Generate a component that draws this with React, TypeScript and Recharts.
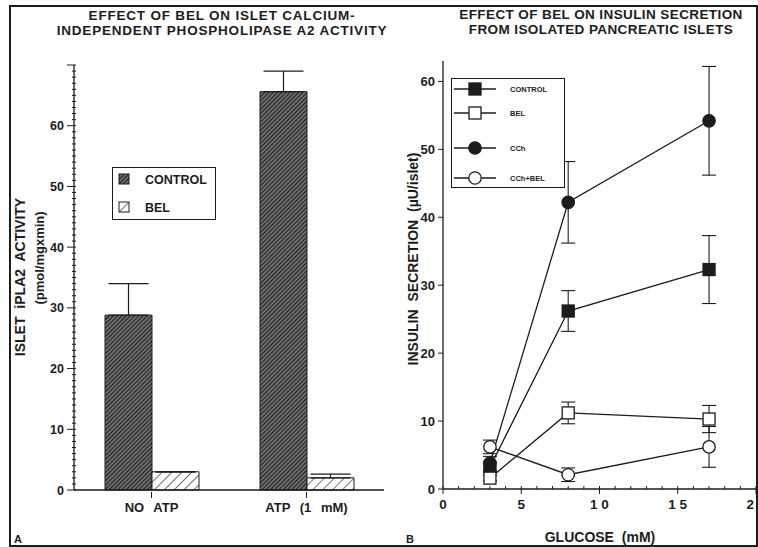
import React from 'react'
import { BarChart, Bar, XAxis, YAxis, ErrorBar, LineChart, Line, Legend } from 'recharts'

const FONT = '"Liberation Sans", Arial, Helvetica, sans-serif'
const INK = '#1c1c1c'

// panel A - iPLA2 activity
const conditions = ['NO ATP', 'ATP (1 mM)']
const controlActivity = [28.8, 65.6]
const controlActivityErr = [5.2, 3.4]
const belActivity = [3.0, 2.0]
const belActivityErr = [0, 0.6]

// panel B - insulin secretion
const glucose = [3, 8, 17]
const controlSecretion = [3.2, 26.2, 32.3]
const controlSecretionErr = [0.6, 3, 5]
const belSecretion = [1.6, 11.2, 10.3]
const belSecretionErr = [0.4, 1.6, 2]
const cchSecretion = [3.8, 42.2, 54.2]
const cchSecretionErr = [1, 6, 8]
const cchBelSecretion = [6.2, 2.1, 6.2]
const cchBelSecretionErr = [1, 1, 3]
const secretionTicks = [0, 10, 20, 30, 40, 50, 60]

// minor tick positions (labels only on every 10th / 5th)
const minorActivity = Array.from({ length: 71 }, (_, i) => i)
const minorGlucose = Array.from({ length: 21 }, (_, i) => i)

const activityData = conditions.map((c, i) => ({
  condition: c,
  control: controlActivity[i],
  controlErr: [0, controlActivityErr[i]],
  bel: belActivity[i],
  belErr: [0, belActivityErr[i]],
}))

const secretionData = glucose.map((g, i) => ({
  glucose: g,
  control: controlSecretion[i],
  controlErr: controlSecretionErr[i],
  bel: belSecretion[i],
  belErr: belSecretionErr[i],
  cch: cchSecretion[i],
  cchErr: cchSecretionErr[i],
  cchBel: cchBelSecretion[i],
  cchBelErr: cchBelSecretionErr[i],
}))

const legendOrder = ['control', 'bel', 'cch', 'cchBel']
const markers: Record<string, string> = {
  control: 'fsquare',
  bel: 'osquare',
  cch: 'fcircle',
  cchBel: 'ocircle',
}

function Marker({ kind, cx, cy }: { kind: string; cx: number; cy: number }) {
  const filled = kind[0] === 'f'
  const fill = filled ? INK : '#fff'
  if (kind.endsWith('square')) {
    return <rect x={cx - 6} y={cy - 6} width={12} height={12} fill={fill} stroke={INK} strokeWidth={1.3} />
  }
  return <circle cx={cx} cy={cy} r={6.2} fill={fill} stroke={INK} strokeWidth={1.3} />
}

const dotFor = (kind: string) => (p: any) => <Marker key={`${kind}-${p.index}`} kind={kind} cx={p.cx} cy={p.cy} />

function ActivityTickLeft({ x, y, payload }: any) {
  const v = payload.value
  const major = v % 10 === 0
  return (
    <g>
      <line x1={major ? x - 7 : x - 2} x2={x + 2} y1={y} y2={y} stroke={INK} strokeWidth={1} />
      {major && v <= 60 && (
        <text x={x - 10} y={y} dy={4.5} textAnchor="end" fontSize={12.5} fontWeight="bold" fontFamily={FONT} fill={INK}>
          {v}
        </text>
      )}
    </g>
  )
}

function ActivityTickRight({ x, y, payload }: any) {
  const major = payload.value % 10 === 0
  return <line x1={x - (major ? 6 : 3)} x2={x} y1={y} y2={y} stroke={INK} strokeWidth={1} />
}

function ConditionTick({ x, y, payload }: any) {
  return (
    <g>
      <line x1={x} x2={x} y1={y} y2={y + 6} stroke={INK} strokeWidth={1} />
      <text x={x} y={y + 20} textAnchor="middle" fontSize={13} fontWeight="bold" fontFamily={FONT} fill={INK} style={{ wordSpacing: 6 }}>
        {payload.value}
      </text>
    </g>
  )
}

function GlucoseTick({ x, y, payload }: any) {
  const v = payload.value
  const major = v % 5 === 0
  return (
    <g>
      {major ? (
        <line x1={x} x2={x} y1={y - 3} y2={y + 5} stroke={INK} strokeWidth={1} />
      ) : (
        <line x1={x} x2={x} y1={y - 3} y2={y} stroke={INK} strokeWidth={1} />
      )}
      {major && (
        <text x={x} y={y + 20} textAnchor="middle" fontSize={13.5} fontWeight="bold" fontFamily={FONT} fill={INK}>
          {String(v).split('').join(' ')}
        </text>
      )}
    </g>
  )
}

function GlucoseTopTick({ x, y }: any) {
  return <line x1={x} x2={x} y1={y} y2={y + 3} stroke={INK} strokeWidth={1} />
}

function SecretionTick({ x, y, payload }: any) {
  return (
    <g>
      <line x1={x - 5} x2={x} y1={y} y2={y} stroke={INK} strokeWidth={1} />
      <text x={x - 8} y={y} dy={4.5} textAnchor="end" fontSize={13} fontWeight="bold" fontFamily={FONT} fill={INK}>
        {payload.value}
      </text>
    </g>
  )
}

function ActivityLegend() {
  const rows = [
    { label: 'CONTROL', fill: 'url(#hatchDark)' },
    { label: 'BEL', fill: 'url(#hatchLight)' },
  ]
  return (
    <div style={{ width: 102, height: 51, border: `1.5px solid ${INK}`, background: '#fff' }}>
      <svg width={102} height={51} style={{ display: 'block' }}>
        {rows.map((r, i) => (
          <g key={r.label}>
            <rect x={6} y={6 + i * 28} width={10} height={10} fill={r.fill} stroke={INK} strokeWidth={1} />
            <text x={32} y={16 + i * 28} fontSize={12.5} fontWeight="bold" fontFamily={FONT} fill={INK}>
              {r.label}
            </text>
          </g>
        ))}
      </svg>
    </div>
  )
}

function SecretionLegend({ payload }: any) {
  const rowY = [10, 34, 69, 99]
  const entries = [...(payload || [])].sort((a: any, b: any) => legendOrder.indexOf(a.dataKey) - legendOrder.indexOf(b.dataKey))
  return (
    <div style={{ width: 112, height: 108, border: `1.5px solid ${INK}`, background: '#fff' }}>
      <svg width={112} height={108} style={{ display: 'block' }}>
        {entries.map((e: any, i: number) => (
          <g key={e.value}>
            <line x1={2} x2={44} y1={rowY[i]} y2={rowY[i]} stroke={INK} strokeWidth={1.3} />
            <Marker kind={markers[e.dataKey]} cx={23} cy={rowY[i]} />
            <text x={58} y={rowY[i] + 3} fontSize={7.5} fontWeight="bold" fontFamily={FONT} fill={INK}>
              {e.value}
            </text>
          </g>
        ))}
      </svg>
    </div>
  )
}

const textStyle = { fontFamily: FONT, fontWeight: 'bold' as const, fill: INK }

export default function App() {
  return (
    <div style={{ position: 'fixed', left: 0, top: 0, width: 758, height: 547, overflow: 'hidden', background: '#fff' }}>
      <div style={{ position: 'absolute', left: 9, top: 5, width: 745, height: 538, border: `2px solid ${INK}` }} />

      <div style={{ position: 'absolute', left: 0, top: 0 }}>
        <BarChart width={390} height={547} data={activityData} margin={{ top: 65, right: 6, left: 0, bottom: 17 }} barGap={0} barSize={47}>
          <defs>
            <pattern id="hatchDark" width={3} height={3} patternUnits="userSpaceOnUse" patternTransform="rotate(45)">
              <rect width={3} height={3} fill="#6e6e6e" />
              <line x1={0} y1={0} x2={0} y2={3} stroke="#151515" strokeWidth={1.8} />
            </pattern>
            <pattern id="hatchLight" width={7} height={7} patternUnits="userSpaceOnUse" patternTransform="rotate(45)">
              <rect width={7} height={7} fill="#fff" />
              <line x1={0} y1={0} x2={0} y2={7} stroke="#333" strokeWidth={1.4} />
            </pattern>
          </defs>
          <XAxis dataKey="condition" height={40} tickSize={0} tick={<ConditionTick />} axisLine={{ stroke: INK, strokeWidth: 1.3 }} tickLine={false} interval={0} />
          <XAxis dataKey="condition" xAxisId="top" orientation="top" height={0} tick={false} tickLine={false} axisLine={{ stroke: INK, strokeWidth: 1.3 }} />
          <YAxis domain={[0, 70]} ticks={minorActivity} interval={0} width={74} tickSize={0} tickMargin={0} tick={<ActivityTickLeft />} tickLine={false} axisLine={{ stroke: INK, strokeWidth: 1.3 }} />
          <YAxis yAxisId="r" orientation="right" domain={[0, 70]} ticks={minorActivity} interval={0} width={0} tickSize={0} tickMargin={0} tick={<ActivityTickRight />} tickLine={false} axisLine={{ stroke: INK, strokeWidth: 1.3 }} />
          <Legend layout="horizontal" verticalAlign="middle" align="center" content={<ActivityLegend />} wrapperStyle={{ position: 'absolute', left: 112, top: 167, width: 'auto' }} />
          <Bar dataKey="control" name="CONTROL" fill="url(#hatchDark)" stroke={INK} strokeWidth={1} isAnimationActive={false}>
            <ErrorBar dataKey="controlErr" width={20} stroke={INK} strokeWidth={1.2} />
          </Bar>
          <Bar dataKey="bel" name="BEL" fill="url(#hatchLight)" stroke={INK} strokeWidth={1} isAnimationActive={false}>
            <ErrorBar dataKey="belErr" width={20} stroke={INK} strokeWidth={1.2} />
          </Bar>
        </BarChart>
      </div>

      <div style={{ position: 'absolute', left: 380, top: 0 }}>
        <LineChart width={400} height={547} data={secretionData} margin={{ top: 61, right: 24, left: 0, bottom: 18 }}>
          <XAxis dataKey="glucose" type="number" domain={[0, 20]} ticks={minorGlucose} interval={0} height={40} tickSize={0} tickMargin={0} tick={<GlucoseTick />} tickLine={false} axisLine={{ stroke: INK, strokeWidth: 1.3 }} />
          <XAxis dataKey="glucose" xAxisId="top" orientation="top" type="number" domain={[0, 20]} ticks={minorGlucose} interval={0} height={0} tickSize={0} tickMargin={0} tick={<GlucoseTopTick />} tickLine={false} axisLine={{ stroke: INK, strokeWidth: 1.3 }} />
          <YAxis domain={[0, 63]} ticks={secretionTicks} interval={0} width={63} tickSize={0} tickMargin={0} tick={<SecretionTick />} tickLine={false} axisLine={{ stroke: INK, strokeWidth: 1.3 }} />
          <YAxis yAxisId="r" orientation="right" domain={[0, 63]} width={0} tick={false} tickLine={false} axisLine={{ stroke: INK, strokeWidth: 1.3 }} />
          <Legend layout="horizontal" verticalAlign="middle" align="center" content={<SecretionLegend />} wrapperStyle={{ position: 'absolute', left: 71, top: 78, width: 'auto' }} />
          <Line dataKey="control" name="CONTROL" stroke={INK} strokeWidth={1.3} dot={dotFor('fsquare')} isAnimationActive={false}>
            <ErrorBar dataKey="controlErr" direction="y" width={7} stroke={INK} strokeWidth={1.1} />
          </Line>
          <Line dataKey="bel" name="BEL" stroke={INK} strokeWidth={1.3} dot={dotFor('osquare')} isAnimationActive={false}>
            <ErrorBar dataKey="belErr" direction="y" width={7} stroke={INK} strokeWidth={1.1} />
          </Line>
          <Line dataKey="cch" name="CCh" stroke={INK} strokeWidth={1.3} dot={dotFor('fcircle')} isAnimationActive={false}>
            <ErrorBar dataKey="cchErr" direction="y" width={7} stroke={INK} strokeWidth={1.1} />
          </Line>
          <Line dataKey="cchBel" name="CCh+BEL" stroke={INK} strokeWidth={1.3} dot={dotFor('ocircle')} isAnimationActive={false}>
            <ErrorBar dataKey="cchBelErr" direction="y" width={7} stroke={INK} strokeWidth={1.1} />
          </Line>
        </LineChart>
      </div>

      <svg width={758} height={547} style={{ position: 'absolute', left: 0, top: 0, pointerEvents: 'none' }}>
        <g {...textStyle} fontSize={13.5} textAnchor="middle">
          <text x={222} y={20} letterSpacing={0.8}>EFFECT OF BEL ON ISLET CALCIUM-</text>
          <text x={222} y={35} letterSpacing={0.8}>INDEPENDENT PHOSPHOLIPASE A2 ACTIVITY</text>
          <text x={601} y={19} letterSpacing={0.4}>EFFECT OF BEL ON INSULIN SECRETION</text>
          <text x={601} y={34} letterSpacing={0.4}>FROM ISOLATED PANCREATIC ISLETS</text>
        </g>
        <g {...textStyle} fontSize={14} textAnchor="middle" style={{ wordSpacing: 4 }}>
          <text x={600} y={542}>GLUCOSE (mM)</text>
          <text transform="translate(25 277) rotate(-90)">ISLET iPLA2 ACTIVITY</text>
          <text transform="translate(418 259) rotate(-90)">INSULIN SECRETION (µU/islet)</text>
        </g>
        <text transform="translate(44 258) rotate(-90)" textAnchor="middle" fontSize={13} {...textStyle}>(pmol/mgxmin)</text>
        <text x={14} y={543} fontSize={11} {...textStyle}>A</text>
        <text x={406} y={543} fontSize={11} {...textStyle}>B</text>
      </svg>
    </div>
  )
}
